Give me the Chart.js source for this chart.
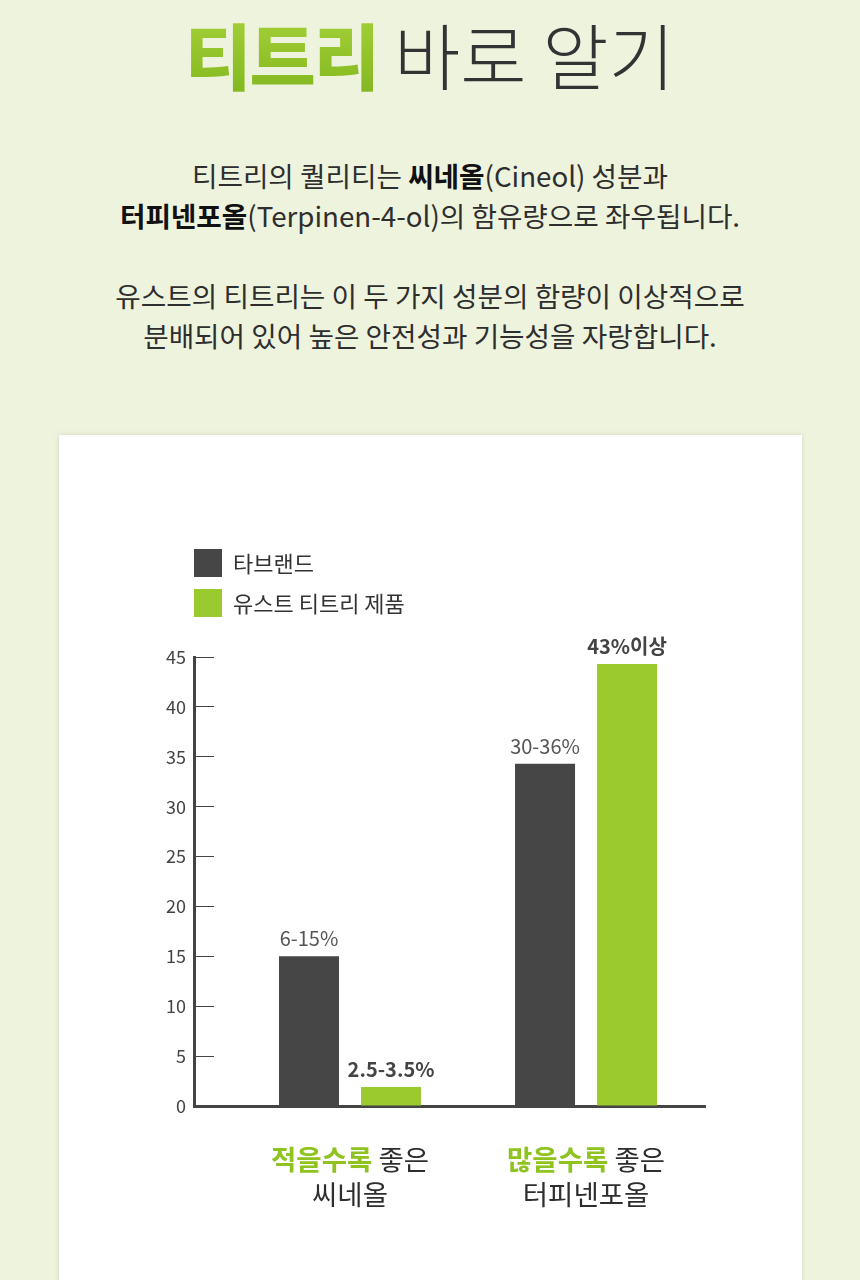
<!DOCTYPE html>
<html><head><meta charset="utf-8">
<script src="https://cdn.jsdelivr.net/npm/chart.js@4/dist/chart.umd.min.js"></script>
<style>
html,body{margin:0;padding:0;}
body{width:860px;height:1280px;background:#eef3de;font-family:'Noto Sans CJK KR','Noto Sans',sans-serif;position:relative;overflow:hidden;color:#2e2e2e;}
.title{position:absolute;top:-2px;left:0;width:860px;text-align:center;font-size:72px;line-height:110px;white-space:nowrap;}
.title .g{font-weight:900;letter-spacing:-2px;background:linear-gradient(180deg,#a9d43c 0%,#7fb41c 100%);-webkit-background-clip:text;background-clip:text;color:transparent;}
.title .n{font-weight:300;color:#333;margin-left:16px;letter-spacing:0px;}
.para{position:absolute;top:155px;left:0;width:860px;text-align:center;font-size:27.7px;line-height:40px;font-weight:400;letter-spacing:0;color:#2e2e2e;}
.para b{font-weight:700;color:#111;}
.card{position:absolute;left:59px;top:435px;width:743px;height:900px;background:#fff;box-shadow:0 0 4px rgba(180,190,160,0.5);}
#c{position:absolute;left:0;top:0;}
</style></head>
<body>
<div class="title"><span class="g">티트리</span><span class="n">바로 알기</span></div>
<div class="para">티트리의 퀄리티는 <b>씨네올</b>(Cineol) 성분과<br><b>터피넨포올</b>(Terpinen-4-ol)의 함유량으로 좌우됩니다.<br><br>유스트의 티트리는 이 두 가지 성분의 함량이 이상적으로<br>분배되어 있어 높은 안전성과 기능성을 자랑합니다.</div>
<div class="card"><canvas id="c" width="743" height="845"></canvas></div>
<script>
const categories = ['씨네올', '터피넨포올'];
const categoryHighlights = ['적을수록', '많을수록'];
const categoryQualifier = '좋은';
const seriesNames = ['타브랜드', '유스트 티트리 제품'];
const otherBrandValues = [15, 34.3];
const ustValues = [1.9, 44.3];
const otherBrandLabels = ['6-15%', '30-36%'];
const ustLabels = ['2.5-3.5%', '43%이상'];
const yMin = 0, yMax = 45, yStep = 5;

const DARK = '#464646', GREEN = '#9bca2e', HIGHLIGHT = '#8fc31f';
const FONT = "'Noto Sans CJK KR','Noto Sans',sans-serif";

const toPoints = vals => vals.map((v, i) => ({x: i, y: v}));

const legendPlugin = {
  id: 'customLegend',
  afterDraw(chart) {
    const ctx = chart.ctx;
    ctx.save();
    chart.data.datasets.forEach((ds, i) => {
      const y = 114 + i * 40;
      ctx.fillStyle = ds.backgroundColor;
      ctx.fillRect(135, y, 28, 28);
      ctx.fillStyle = '#333';
      ctx.font = '22px ' + FONT;
      ctx.textAlign = 'left';
      ctx.textBaseline = 'middle';
      ctx.fillText(ds.label, 174, y + 15);
    });
    ctx.restore();
  }
};

const valueLabelPlugin = {
  id: 'valueLabels',
  afterDatasetsDraw(chart) {
    const ctx = chart.ctx;
    ctx.save();
    ctx.textAlign = 'center';
    ctx.textBaseline = 'alphabetic';
    chart.data.datasets.forEach((ds, di) => {
      const meta = chart.getDatasetMeta(di);
      meta.data.forEach((el, i) => {
        if (di === 0) { ctx.font = '400 20px ' + FONT; ctx.fillStyle = '#555'; }
        else { ctx.font = '700 20px ' + FONT; ctx.fillStyle = '#444'; }
        ctx.fillText(ds.valueLabels[i], el.x, el.y - 10);
      });
    });
    ctx.restore();
  }
};

const categoryLabelPlugin = {
  id: 'categoryLabels',
  afterDraw(chart) {
    const ctx = chart.ctx;
    const xs = chart.scales.x;
    const base = chart.chartArea.bottom;
    ctx.save();
    ctx.textBaseline = 'middle';
    ctx.textAlign = 'left';
    categories.forEach((cat, i) => {
      const cx = xs.getPixelForValue(i);
      ctx.font = '700 27.5px ' + FONT;
      const w1 = ctx.measureText(categoryHighlights[i]).width;
      ctx.font = '400 27.5px ' + FONT;
      const wsp = ctx.measureText(' ').width;
      const w2 = ctx.measureText(categoryQualifier).width;
      let x = cx - (w1 + wsp + w2) / 2;
      ctx.font = '700 27.5px ' + FONT;
      ctx.fillStyle = HIGHLIGHT;
      ctx.fillText(categoryHighlights[i], x, base + 54);
      ctx.font = '400 27.5px ' + FONT;
      ctx.fillStyle = '#2e2e2e';
      ctx.fillText(categoryQualifier, x + w1 + wsp, base + 54);
      ctx.textAlign = 'center';
      ctx.fillText(cat, cx, base + 89);
      ctx.textAlign = 'left';
    });
    ctx.restore();
  }
};

new Chart(document.getElementById('c'), {
  type: 'bar',
  data: {
    datasets: [
      {label: seriesNames[0], data: toPoints(otherBrandValues), backgroundColor: DARK, valueLabels: otherBrandLabels,
       categoryPercentage: 0.695, barPercentage: 0.7317},
      {label: seriesNames[1], data: toPoints(ustValues), backgroundColor: GREEN, valueLabels: ustLabels,
       categoryPercentage: 0.695, barPercentage: 0.7317}
    ]
  },
  options: {
    responsive: false,
    animation: false,
    events: [],
    layout: {padding: {left: 75, right: 97, top: 222, bottom: 174}},
    plugins: {legend: {display: false}, tooltip: {enabled: false}},
    scales: {
      x: {
        type: 'linear', min: -0.661, max: 1.504, offset: false,
        afterBuildTicks(s) { s.ticks = categories.map((c, i) => ({value: i})); },
        ticks: {display: false},
        grid: {display: false, offset: false},
        border: {display: true, color: '#444', width: 3},
        afterFit(s) { s.height = 0; }
      },
      y: {
        min: yMin, max: yMax,
        ticks: {stepSize: yStep, padding: 28, color: '#444', font: {size: 18, family: FONT}},
        grid: {display: true, drawOnChartArea: false, drawTicks: true, tickLength: -20, color: '#444', lineWidth: 1},
        border: {display: true, color: '#444', width: 3},
        afterFit(s) { s.width = 60; }
      }
    }
  },
  plugins: [legendPlugin, valueLabelPlugin, categoryLabelPlugin]
});
</script>
</body></html>
